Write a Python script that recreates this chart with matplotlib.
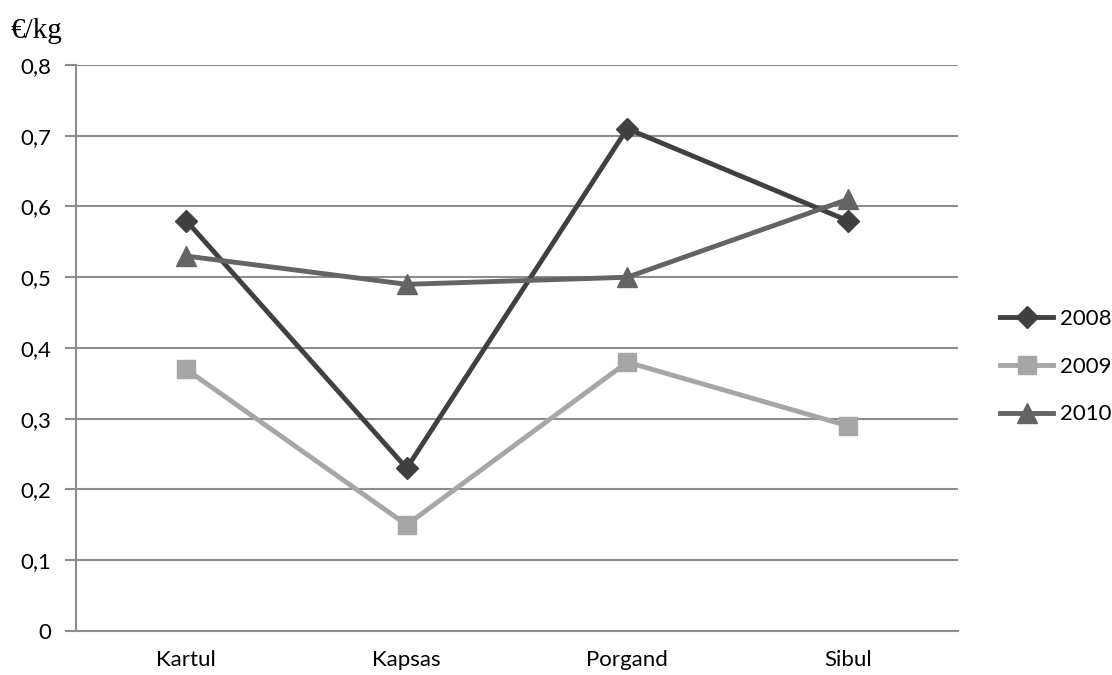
import matplotlib
matplotlib.use("Agg")
import matplotlib.pyplot as plt

categories = ["Kartul", "Kapsas", "Porgand", "Sibul"]
series_names = ["2008", "2009", "2010"]
v2008 = [0.58, 0.23, 0.71, 0.58]
v2009 = [0.37, 0.15, 0.38, 0.29]
v2010 = [0.53, 0.49, 0.50, 0.61]
yticks = [0, 0.1, 0.2, 0.3, 0.4, 0.5, 0.6, 0.7, 0.8]
ytick_labels = ["0", "0,1", "0,2", "0,3", "0,4", "0,5", "0,6", "0,7", "0,8"]

plt.rcParams['font.family'] = ['Lato', 'DejaVu Sans']

fig = plt.figure(figsize=(11.12, 6.75), dpi=100)
ax = fig.add_axes([0.0683, 0.0652, 0.7932, 0.8385])

x = list(range(len(categories)))
styles = [
    (v2008, "#404040", "D", 11),
    (v2009, "#a6a6a6", "s", 13),
    (v2010, "#646464", "^", 14),
]
for (vals, col, mk, ms), name in zip(styles, series_names):
    ax.plot(x, vals, color=col, lw=3.5, marker=mk, markersize=ms,
            markeredgecolor=col, markerfacecolor=col, label=name, zorder=3)

ax.set_xlim(-0.5, 3.5)
ax.set_ylim(0, 0.8)
ax.set_yticks(yticks)
ax.set_yticklabels(ytick_labels, fontsize=16)
ax.set_xticks(x)
ax.set_xticklabels(categories, fontsize=16)
ax.tick_params(axis='x', length=0, pad=14)
ax.tick_params(axis='y', length=8, width=1.5, color="#8c8c8c", pad=10)
ax.grid(axis='y', color="#8c8c8c", lw=1.5, zorder=0)
for s in ["top", "right"]:
    ax.spines[s].set_visible(False)
ax.spines["left"].set_color("#8c8c8c")
ax.spines["left"].set_linewidth(1.5)
ax.spines["bottom"].set_color("#8c8c8c")
ax.spines["bottom"].set_linewidth(1.5)
ax.set_axisbelow(True)

fig.text(0.009, 0.943, "€/kg", fontsize=21, family=["Liberation Serif", "DejaVu Serif"])

leg = ax.legend(loc="center left", bbox_to_anchor=(1.025, 0.467), frameon=False,
                fontsize=16, handlelength=2.4, labelspacing=1.25, handletextpad=0.3)

fig.savefig("out.png", dpi=100)
